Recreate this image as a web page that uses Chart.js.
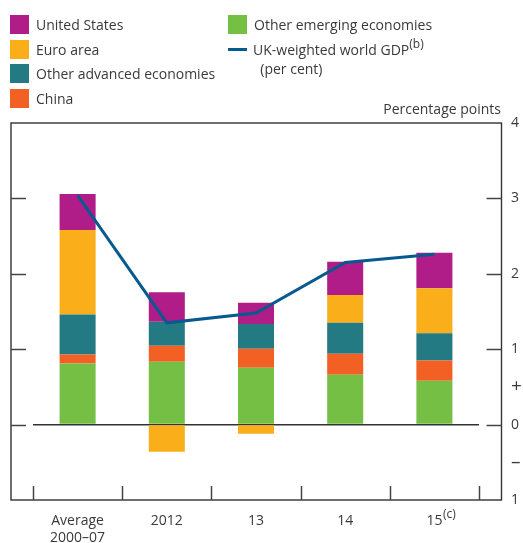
<!DOCTYPE html>
<html>
<head>
<meta charset="utf-8">
<script src="https://cdn.jsdelivr.net/npm/chart.js@4/dist/chart.umd.min.js"></script>
<style>
  html, body { margin: 0; padding: 0; background: #fff; }
  #wrap { position: relative; width: 523px; height: 543px; font-family: "Open Sans", "Noto Sans", sans-serif; color: #3a3a3a; }
  canvas { position: absolute; left: 0; top: 0; }
  .lg { position: absolute; font-size: 14px; line-height: 19px; white-space: nowrap; }
  .sw { position: absolute; width: 19px; height: 19px; }
  .ln { position: absolute; width: 19px; height: 3px; }
  sup { font-size: 12px; line-height: 0; vertical-align: 7px; }
</style>
</head>
<body>
<div id="wrap">
  <canvas id="c" width="523" height="543"></canvas>
  <div id="legend"></div>
  <div class="lg" style="right:22px; top:99px;">Percentage points</div>
</div>
<script>
const categories = [["Average", "2000–07"], "2012", "13", "14", "15"];
const otherEmerging = [0.81, 0.835, 0.755, 0.66, 0.58];
const china = [0.12, 0.21, 0.25, 0.28, 0.27];
const otherAdvanced = [0.53, 0.32, 0.33, 0.41, 0.36];
const euroArea = [1.12, -0.36, -0.12, 0.37, 0.60];
const unitedStates = [0.48, 0.39, 0.28, 0.44, 0.47];
const worldGDP = [3.04, 1.35, 1.48, 2.15, 2.26];
const yTickLabels = { "4": "4", "3": "3", "2": "2", "1": "1", "0.5": "+", "0": "0", "-0.5": "–", "-1": "1" };

const colors = {
  us: "#b01c88", euro: "#f9ae1a", adv: "#237a83", china: "#f26024", emerging: "#75bf44", line: "#075a8f"
};

// Legend (HTML text)
const legendItems = [
  { label: "United States", color: colors.us, x: 10, y: 15 },
  { label: "Euro area", color: colors.euro, x: 10, y: 40 },
  { label: "Other advanced economies", color: colors.adv, x: 10, y: 64 },
  { label: "China", color: colors.china, x: 10, y: 89 },
  { label: "Other emerging economies", color: colors.emerging, x: 228, y: 15 }
];
const lg = document.getElementById("legend");
legendItems.forEach(it => {
  const s = document.createElement("div");
  s.className = "sw"; s.style.left = it.x + "px"; s.style.top = it.y + "px"; s.style.background = it.color;
  lg.appendChild(s);
  const t = document.createElement("div");
  t.className = "lg"; t.style.left = (it.x + 26) + "px"; t.style.top = (it.y) + "px"; t.textContent = it.label;
  lg.appendChild(t);
});
{
  const l = document.createElement("div");
  l.className = "ln"; l.style.left = "228px"; l.style.top = "48px"; l.style.background = colors.line;
  lg.appendChild(l);
  const t = document.createElement("div");
  t.className = "lg"; t.style.left = "253px"; t.style.top = "40px";
  t.innerHTML = "UK-weighted world GDP<sup>(b)</sup><br>&nbsp;&nbsp;(per cent)";
  lg.appendChild(t);
}

const FRAME = { left: 11, right: 501.5, top: 123, bottom: 500 };

const framePlugin = {
  id: "frame",
  afterDraw(chart) {
    const ctx = chart.ctx;
    const y = chart.scales.y, x = chart.scales.x;
    ctx.save();
    ctx.strokeStyle = "#333";
    ctx.lineWidth = 1.4;
    ctx.strokeRect(FRAME.left, FRAME.top, FRAME.right - FRAME.left, FRAME.bottom - FRAME.top);
    ctx.strokeStyle = "#444";
    ctx.lineWidth = 1.5;
    [3, 2, 1, 0].forEach(v => {
      const py = Math.round(y.getPixelForValue(v)) + 0.5;
      ctx.beginPath(); ctx.moveTo(FRAME.left, py); ctx.lineTo(FRAME.left + 15, py); ctx.stroke();
      ctx.beginPath(); ctx.moveTo(FRAME.right - 15, py); ctx.lineTo(FRAME.right, py); ctx.stroke();
    });
    const n = categories.length;
    const half = (x.getPixelForValue(1) - x.getPixelForValue(0)) / 2;
    for (let i = 0; i <= n; i++) {
      const px = Math.round(x.getPixelForValue(Math.min(i, n - 1)) + (i === n ? half : -half)) + 0.5;
      ctx.beginPath(); ctx.moveTo(px, FRAME.bottom - 14); ctx.lineTo(px, FRAME.bottom); ctx.stroke();
    }
    // superscript (c) on the last category label
    ctx.font = "14px 'Open Sans'";
    const w = ctx.measureText("15").width;
    const cx = x.getPixelForValue(n - 1);
    ctx.font = "12px 'Open Sans'";
    ctx.fillStyle = "#3a3a3a";
    ctx.textBaseline = "middle";
    ctx.textAlign = "left";
    ctx.fillText("(c)", cx + w / 2 + 0.5, 515);
    ctx.restore();
  }
};

const barDs = (label, data, color) => ({
  type: "bar", label, data, backgroundColor: color, borderWidth: 0,
  barPercentage: 0.404, categoryPercentage: 1, order: 2
});

new Chart(document.getElementById("c"), {
  data: {
    labels: categories,
    datasets: [
      { type: "line", label: "UK-weighted world GDP (per cent)", data: worldGDP, borderColor: colors.line,
        borderWidth: 3, pointRadius: 0, tension: 0, fill: false, stack: "line", order: 0 },
      barDs("Other emerging economies", otherEmerging, colors.emerging),
      barDs("China", china, colors.china),
      barDs("Other advanced economies", otherAdvanced, colors.adv),
      barDs("Euro area", euroArea, colors.euro),
      barDs("United States", unitedStates, colors.us)
    ]
  },
  options: {
    responsive: false,
    animation: false,
    devicePixelRatio: 1,
    layout: { padding: { left: 33, top: 123, right: 0, bottom: 0 } },
    plugins: { legend: { display: false }, tooltip: { enabled: false } },
    scales: {
      x: {
        stacked: true,
        offset: true,
        grid: { display: false, drawTicks: false },
        border: { display: false },
        ticks: { color: "#3a3a3a", font: { family: "'Open Sans'", size: 14, lineHeight: 1.25 }, padding: 12, maxRotation: 0, autoSkip: false },
        afterFit(s) { s.height = 43; }
      },
      y: {
        position: "right",
        stacked: true,
        min: -1, max: 4,
        grid: {
          drawTicks: false,
          color: c => (c.tick && c.tick.value === 0 ? "#333" : "rgba(0,0,0,0)"),
          lineWidth: 1.5
        },
        border: { display: false },
        ticks: {
          stepSize: 0.5, autoSkip: false, padding: 32,
          color: "#3a3a3a",
          font: c => ({ family: "'Open Sans'", size: (c.tick && Math.abs(c.tick.value) === 0.5) ? 19 : 14 }),
          callback: v => (yTickLabels[String(v)] !== undefined ? yTickLabels[String(v)] : "")
        },
        afterFit(s) { s.width = 44; }
      }
    }
  },
  plugins: [framePlugin]
});
</script>
</body>
</html>
